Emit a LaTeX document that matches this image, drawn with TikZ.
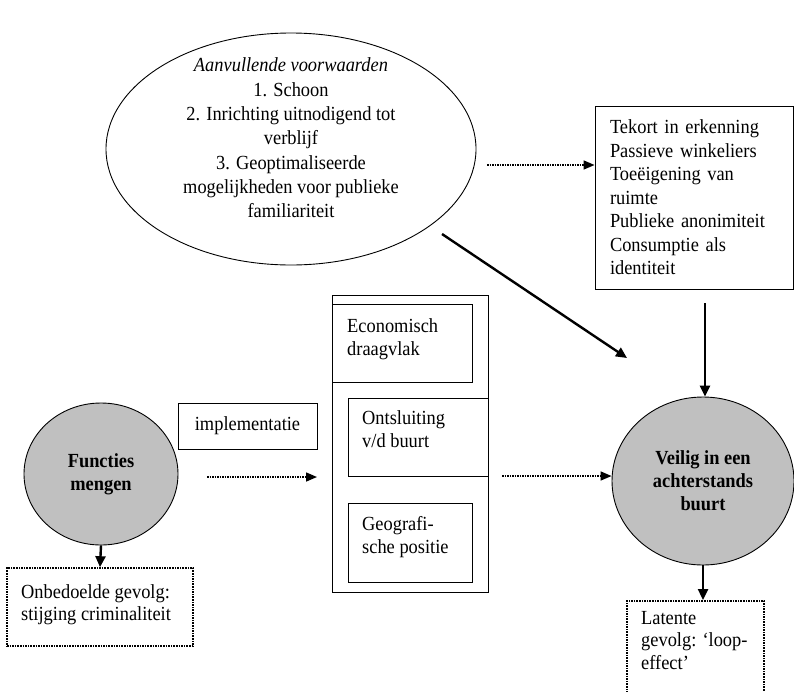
\documentclass[tikz,border=0pt]{standalone}
\usepackage{fontspec}
\setmainfont{Liberation Serif}[FakeStretch=0.92]
\usetikzlibrary{shapes.geometric,arrows.meta,calc}
\definecolor{circgray}{RGB}{192,192,192}
\tikzset{
 box/.style={draw, line width=0.9pt, inner sep=0pt},
 dbox/.style={draw, line width=1.6pt, densely dotted, inner sep=0pt},
 txt/.style={inner sep=0pt, align=left, font=\fontsize{20}{23.5}\selectfont},
 ctxt/.style={inner sep=0pt, align=center, font=\fontsize{20}{24.3}\selectfont},
 gcirc/.style={ellipse, draw, line width=0.9pt, fill=circgray, inner sep=0pt, align=center, font=\bfseries\fontsize{20}{23}\selectfont},
 sarrow/.style={line width=2.4pt, -{Triangle[length=11pt,width=10pt]}},
 darrow/.style={line width=1.5pt, densely dotted, -{Triangle[length=11pt,width=9pt]}},
}
\begin{document}
\begin{tikzpicture}[x=1pt,y=-1pt]
\useasboundingbox (0,0) rectangle (794,691);
\clip (0,0) rectangle (794,691);
% top ellipse
\node[box, ellipse, minimum width=370, minimum height=232] (ell) at (291,149) {};
\node[ctxt] (ellt) at (291,138) {\textit{Aanvullende voorwaarden}\\1. Schoon\\2. Inrichting uitnodigend tot\\verblijf\\3. Geoptimaliseerde\\mogelijkheden voor publieke\\familiariteit};
% right box
\node[box, txt, text width=168, minimum width=198, minimum height=183] (rbox) at (694,197.5) {Tekort in erkenning\\Passieve winkeliers\\Toeëigening van\\ruimte\\Publieke anonimiteit\\Consumptie als\\identiteit};
% middle block
\node[box, minimum width=156, minimum height=297] (mout) at (410,443.5) {};
\node[box, minimum width=140, minimum height=78] (econ) at (402,343) {};
\node[txt, anchor=north west] (econt) at (347,318) {Economisch\\draagvlak};
\node[box, minimum width=140, minimum height=78] (ontsl) at (418,437) {};
\node[txt, anchor=north west] (ontslt) at (362,410) {Ontsluiting\\v/d buurt};
\node[box, minimum width=124, minimum height=79] (geo) at (410,542.5) {};
\node[txt, anchor=north west] (geot) at (362,516) {Geografi-\\sche positie};
% left
\node[box, txt, minimum width=139, minimum height=46] (impl) at (247.5,426) {implementatie};
\node[gcirc, minimum width=154, minimum height=142] (fm) at (101,474) {Functies\\mengen};
\node[dbox, minimum width=186, minimum height=78] (onb) at (100,607) {};
\node[txt, anchor=north west, font=\fontsize{20}{22}\selectfont] (onbt) at (21,584) {Onbedoelde gevolg:\\stijging criminaliteit};
% right circle
\node[gcirc, minimum width=182, minimum height=168] (veil) at (703,481) {Veilig in een\\achterstands\\buurt};
\node[dbox, minimum width=137, minimum height=140, anchor=north] (lat) at (695.5,600) {};
\node[txt, anchor=north west, font=\fontsize{20}{22.5}\selectfont] (latt) at (641,611) {Latente\\gevolg: ‘loop-\\effect’};
% connectors
\coordinate (a1s) at (487,165);
\draw[darrow] (a1s) -- (a1s -| rbox.west);
\coordinate (a2s) at (442,234);
\coordinate (a2e) at (627,358);
\draw[sarrow] (a2s) -- (a2e);
\coordinate (a3s) at (705,303);
\draw[sarrow] (a3s) -- (a3s |- veil.north);
\coordinate (a4s) at (207,477);
\coordinate (a4e) at (317,477);
\draw[darrow] (a4s) -- (a4e);
\coordinate (a5s) at (502,476);
\draw[darrow] (a5s) -- (a5s -| veil.west);
\draw[sarrow] (fm.south) -- (onb.north);
\draw[sarrow] (veil.south) -- (veil.south |- lat.north);
\end{tikzpicture}
\end{document}
